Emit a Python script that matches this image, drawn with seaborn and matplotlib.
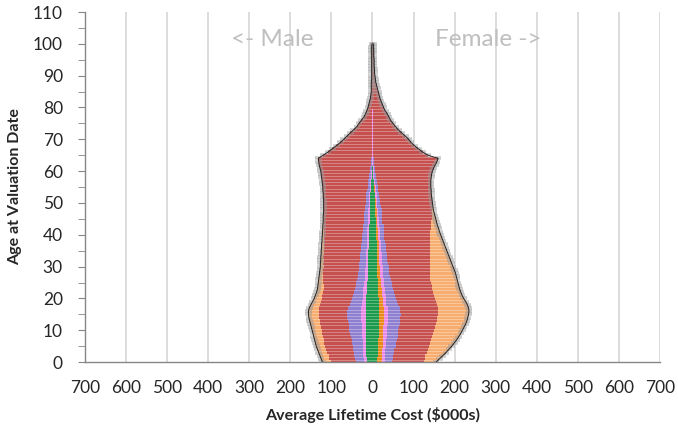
import numpy as np
import seaborn as sns
import matplotlib.pyplot as plt

# ages 0..100, one bar per age
ages = np.arange(0, 101)

# ---- Male (drawn to the left) ----
male_total = np.array([
    122, 125, 128, 131, 134, 137, 139, 141, 143, 145,
    147, 149, 151, 153, 155, 156, 156, 154, 150, 146,
    142, 139, 136, 134, 133, 132, 131, 130, 129, 128,
    127, 127, 126, 126, 125, 125, 124, 124, 123, 123,
    122, 122, 121, 121, 120, 120, 120, 119, 119, 119,
    119, 119, 120, 120, 121, 121, 122, 123, 124, 125,
    126, 128, 130, 131, 132, 120, 108, 98, 88, 78,
    70, 62, 54, 46, 38, 33, 27, 21, 17, 14,
    11, 9, 7, 5, 4, 3, 3, 3, 3, 2,
    2, 2, 2, 2, 2, 2, 2, 2, 2, 2, 1])
male_green = np.array([
    14, 14, 15, 15, 15, 15, 16, 16, 16, 16,
    17, 17, 17, 17, 17, 17, 17, 17, 16, 16,
    15, 15, 14, 14, 13, 13, 12, 12, 12, 11,
    11, 11, 10, 10, 10, 10, 9, 9, 9, 9,
    8, 8, 8, 8, 7, 7, 7, 7, 6, 6,
    6, 5, 5, 5, 4, 4, 3, 3, 2, 2,
    1, 1, 0, 0, 0, 0, 0, 0, 0, 0,
    0, 0, 0, 0, 0, 0, 0, 0, 0, 0,
    0, 0, 0, 0, 0, 0, 0, 0, 0, 0,
    0, 0, 0, 0, 0, 0, 0, 0, 0, 0, 0])
male_pink = np.array([
    7, 7, 7, 8, 8, 8, 8, 8, 9, 9,
    9, 9, 9, 10, 10, 10, 10, 10, 9, 9,
    9, 8, 8, 8, 8, 7, 7, 7, 7, 7,
    6, 6, 6, 6, 6, 6, 5, 5, 5, 5,
    5, 5, 5, 4, 4, 4, 4, 4, 4, 3,
    3, 3, 3, 3, 3, 2, 2, 2, 2, 2,
    2, 1, 1, 1, 1, 1, 1, 1, 1, 1,
    1, 1, 1, 1, 1, 0, 0, 0, 0, 0,
    0, 0, 0, 0, 0, 0, 0, 0, 0, 0,
    0, 0, 0, 0, 0, 0, 0, 0, 0, 0, 0])
male_purple = np.array([
    20, 21, 22, 23, 24, 25, 26, 27, 28, 29,
    30, 31, 32, 33, 34, 35, 35, 33, 30, 28,
    26, 24, 22, 21, 20, 19, 18, 17, 16, 16,
    15, 15, 14, 14, 14, 13, 13, 13, 12, 12,
    12, 11, 11, 11, 10, 10, 10, 9, 9, 9,
    8, 8, 7, 7, 7, 6, 6, 5, 5, 4,
    4, 3, 3, 2, 2, 1, 1, 1, 1, 1,
    1, 1, 1, 1, 1, 0, 0, 0, 0, 0,
    0, 0, 0, 0, 0, 0, 0, 0, 0, 0,
    0, 0, 0, 0, 0, 0, 0, 0, 0, 0, 0])
male_lightorange = np.array([
    20, 20, 21, 21, 22, 22, 22, 23, 23, 23,
    24, 24, 24, 25, 25, 25, 25, 24, 22, 20,
    18, 17, 16, 15, 14, 12, 11, 10, 9, 8,
    8, 7, 7, 6, 6, 6, 5, 5, 5, 4,
    4, 4, 3, 3, 3, 2, 2, 2, 1, 1,
    0, 0, 0, 0, 0, 0, 0, 0, 0, 0,
    0, 0, 0, 0, 0, 0, 0, 0, 0, 0,
    0, 0, 0, 0, 0, 0, 0, 0, 0, 0,
    0, 0, 0, 0, 0, 0, 0, 0, 0, 0,
    0, 0, 0, 0, 0, 0, 0, 0, 0, 0, 0])

# ---- Female (drawn to the right) ----
female_total = np.array([
    155, 163, 171, 179, 186, 193, 199, 205, 210, 215,
    219, 223, 227, 230, 232, 234, 235, 234, 231, 227,
    222, 218, 215, 212, 210, 208, 206, 204, 202, 199,
    196, 193, 190, 187, 184, 181, 178, 175, 172, 169,
    166, 163, 161, 158, 156, 154, 152, 150, 148, 147,
    146, 145, 144, 143, 143, 142, 142, 142, 143, 144,
    146, 149, 153, 157, 160, 135, 122, 112, 102, 94,
    88, 80, 71, 63, 56, 50, 44, 40, 36, 31,
    27, 24, 21, 18, 16, 14, 12, 10, 8, 7,
    6, 5, 5, 4, 4, 4, 3, 3, 3, 2, 2])
female_green = np.array([
    12, 12, 13, 13, 13, 14, 14, 14, 15, 15,
    15, 15, 16, 16, 16, 16, 16, 16, 15, 15,
    15, 14, 14, 14, 13, 13, 13, 12, 12, 12,
    12, 11, 11, 11, 11, 10, 10, 10, 10, 9,
    9, 9, 9, 8, 8, 8, 7, 7, 7, 6,
    6, 6, 5, 5, 4, 4, 3, 3, 2, 2,
    1, 1, 0, 0, 0, 0, 0, 0, 0, 0,
    0, 0, 0, 0, 0, 0, 0, 0, 0, 0,
    0, 0, 0, 0, 0, 0, 0, 0, 0, 0,
    0, 0, 0, 0, 0, 0, 0, 0, 0, 0, 0])
female_orange = np.array([
    10, 10, 10, 10, 10, 11, 11, 11, 11, 11,
    11, 11, 11, 11, 11, 11, 11, 11, 10, 10,
    10, 9, 9, 9, 8, 8, 8, 7, 7, 7,
    6, 6, 6, 6, 5, 5, 5, 5, 5, 4,
    4, 4, 4, 4, 3, 3, 3, 3, 3, 2,
    2, 2, 2, 2, 1, 1, 1, 1, 0, 0,
    0, 0, 0, 0, 0, 0, 0, 0, 0, 0,
    0, 0, 0, 0, 0, 0, 0, 0, 0, 0,
    0, 0, 0, 0, 0, 0, 0, 0, 0, 0,
    0, 0, 0, 0, 0, 0, 0, 0, 0, 0, 0])
female_pink = np.array([
    8, 8, 8, 8, 8, 9, 9, 9, 9, 9,
    9, 9, 10, 10, 10, 10, 10, 10, 9, 9,
    9, 9, 8, 8, 8, 8, 7, 7, 7, 7,
    7, 6, 6, 6, 6, 6, 6, 5, 5, 5,
    5, 5, 5, 5, 4, 4, 4, 4, 4, 4,
    3, 3, 3, 3, 3, 3, 2, 2, 2, 2,
    2, 2, 1, 1, 1, 1, 1, 1, 1, 1,
    1, 1, 1, 1, 1, 1, 1, 1, 1, 1,
    0, 0, 0, 0, 0, 0, 0, 0, 0, 0,
    0, 0, 0, 0, 0, 0, 0, 0, 0, 0, 0])
female_purple = np.array([
    18, 19, 20, 21, 22, 23, 24, 25, 26, 27,
    28, 29, 30, 31, 31, 32, 31, 30, 28, 26,
    24, 22, 21, 20, 19, 18, 17, 16, 15, 15,
    14, 14, 13, 13, 13, 12, 12, 12, 11, 11,
    11, 10, 10, 10, 9, 9, 9, 8, 8, 8,
    7, 7, 7, 6, 6, 6, 5, 5, 4, 4,
    3, 3, 2, 2, 2, 1, 1, 1, 1, 1,
    1, 1, 1, 1, 1, 0, 0, 0, 0, 0,
    0, 0, 0, 0, 0, 0, 0, 0, 0, 0,
    0, 0, 0, 0, 0, 0, 0, 0, 0, 0, 0])
female_lightorange = np.array([
    30, 36, 42, 47, 52, 56, 60, 63, 66, 68,
    70, 71, 72, 73, 74, 75, 76, 75, 74, 72,
    70, 69, 68, 67, 66, 66, 65, 63, 61, 58,
    55, 52, 49, 46, 44, 42, 38, 35, 31, 28,
    25, 22, 19, 16, 13, 10, 7, 5, 3, 2,
    1, 0, 0, 0, 0, 0, 0, 0, 0, 0,
    0, 0, 0, 0, 0, 0, 0, 0, 0, 0,
    0, 0, 0, 0, 0, 0, 0, 0, 0, 0,
    0, 0, 0, 0, 0, 0, 0, 0, 0, 0,
    0, 0, 0, 0, 0, 0, 0, 0, 0, 0, 0])

# spread of the estimate shown as grey halo at the bar ends ($000s)
halo = 8

x_ticks = np.arange(-700, 701, 100)

colors = {
    'green': '#1a9a4a',
    'orange': '#e98a1b',
    'pink': '#e88ae6',
    'purple': '#8f7fd0',
    'red': '#c6504e',
    'lightorange': '#f8ad70',
}

sns.set_style('white')
plt.rcParams['font.family'] = ['Lato', 'DejaVu Sans']

fig = plt.figure(figsize=(6.78, 4.29), dpi=100)
ax = fig.add_axes([0.1254, 0.156, 0.848, 0.816])


def draw_side(layers, total, sign):
    # stack from the centre outwards: inner layers, red remainder, light orange
    lo = dict(layers).get('lightorange', np.zeros_like(total))
    stack = [(k, v) for k, v in layers if k != 'lightorange']
    red = total - lo - sum(v for _, v in stack)
    order = stack + [('red', red), ('lightorange', lo)]
    cum = np.cumsum([v for _, v in order], axis=0)
    # widest first so narrower ones are drawn over it
    for (name, _), c in reversed(list(zip(order, cum))):
        sns.barplot(x=sign * c, y=ages, orient='y', native_scale=True,
                    width=1.0, color=colors[name], saturation=1,
                    linewidth=0, errorbar=None, ax=ax)
    ax.errorbar(sign * total, ages, xerr=halo, fmt='none',
                ecolor='#9a9a9a', elinewidth=2.6, alpha=0.5, zorder=4)
    ax.plot(sign * total, ages, color='#222222', lw=0.7, zorder=5)


draw_side([('green', male_green), ('pink', male_pink),
           ('purple', male_purple), ('lightorange', male_lightorange)],
          male_total, -1)
draw_side([('green', female_green), ('orange', female_orange),
           ('pink', female_pink), ('purple', female_purple),
           ('lightorange', female_lightorange)],
          female_total, 1)

# pale separators between the one-year bars
ax.hlines(ages + 0.5, -male_total, female_total, color='white',
          lw=0.5, alpha=0.45, zorder=3)

ax.set_xlim(-700, 700)
ax.set_ylim(0, 110)
ax.set_xticks(x_ticks)
ax.set_xticklabels([str(abs(v)) for v in x_ticks])
ax.set_yticks(np.arange(0, 111, 10))
ax.set_yticks(np.arange(0, 111, 5), minor=True)
ax.grid(axis='x', color='#d9d9d9', lw=1.3)
ax.grid(axis='y', visible=False)
ax.set_axisbelow(True)

for s in ['top', 'right']:
    ax.spines[s].set_visible(False)
for s in ['left', 'bottom']:
    ax.spines[s].set_color('#868686')
    ax.spines[s].set_linewidth(1.0)

ax.tick_params(axis='both', which='both', direction='out', color='#868686',
               labelsize=12.5, labelcolor='#262626')
ax.tick_params(axis='x', length=5, pad=8)
ax.tick_params(axis='y', which='major', length=5, pad=11, left=True)
ax.tick_params(axis='y', which='minor', length=5, left=True)

ax.set_xlabel('Average Lifetime Cost ($000s)', fontsize=11.5,
              fontweight='bold', color='#262626', labelpad=8)
ax.set_ylabel('Age at Valuation Date', fontsize=11.5, fontweight='bold',
              color='#262626', labelpad=8)

ax.text(-245, 101.5, '<- Male', fontsize=17.5, color='#bfbfbf',
        ha='center', va='center')
ax.text(282, 101.5, 'Female ->', fontsize=17.5, color='#bfbfbf',
        ha='center', va='center')

fig.savefig('out.png', dpi=100)
